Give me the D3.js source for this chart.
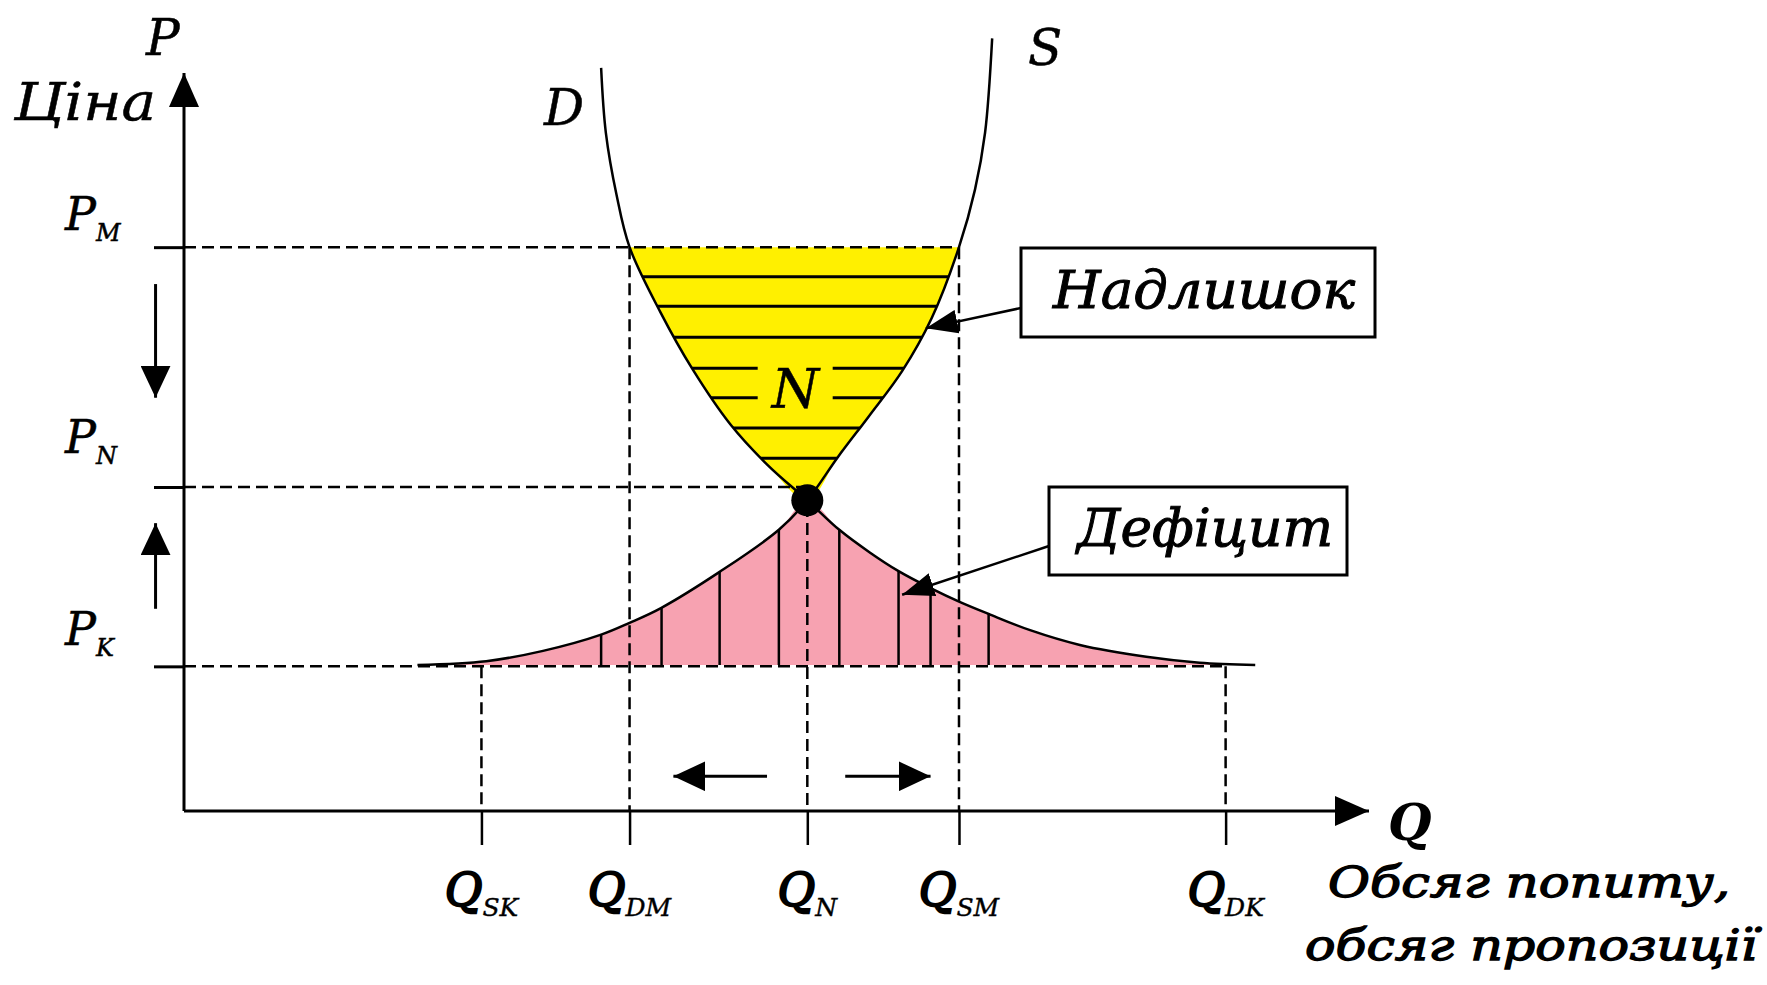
<!DOCTYPE html>
<html>
<head>
<meta charset="utf-8">
<script src="https://cdn.jsdelivr.net/npm/d3@7"></script>
<style>
    body { margin: 0; background: #fff; }
    svg text { font-family: "DejaVu Serif", serif; font-style: italic; fill: #000; stroke: #000; stroke-width: 0.5px; }
</style>
</head>
<body>
<div id="chart"></div>
<script>

// price levels on the vertical axis
var priceNames = ["M", "N", "K"];
var priceValues = [76.4, 43.9, 19.6];
var priceEnds = [65.4, 52.6, 87.9];        // where each dashed price line stops (Q)

// quantity levels on the horizontal axis
var quantityNames = ["SK", "DM", "N", "SM", "DK"];
var quantityValues = [25.1, 37.6, 52.6, 65.4, 87.9];
var quantityTops = [19.6, 76.4, 43.9, 76.4, 19.6];   // where each dashed line starts (P)

// demand curve D
var demandQ = [35.2, 35.6, 36.5, 37.6, 40.2, 42.9, 46.1, 49.3, 52.6, 55.3, 57.9, 60.3, 63.0, 65.5, 67.9, 71.4, 75.6, 81.2, 85.7, 90.4];
var demandP = [100.7, 91.9, 83.5, 76.4, 67.6, 59.9, 52.4, 46.8, 42.1, 38.1, 35.0, 32.5, 30.2, 28.3, 26.7, 24.5, 22.5, 20.9, 20.1, 19.8];

// supply curve S
var supplyQ = [19.7, 25.5, 30.3, 35.2, 37.6, 40.25, 45.2, 50.2, 52.6, 55.2, 57.8, 60.6, 63.1, 65.4, 66.75, 67.6, 68.2];
var supplyP = [19.8, 20.3, 21.7, 23.9, 25.5, 27.5, 32.4, 38.1, 42.1, 48.0, 53.5, 59.6, 66.8, 76.4, 84.2, 91.9, 104.7];

var equilibriumQ = 52.6, equilibriumP = 42.1;

// hatching inside the two areas
var surplusHatchP = [72.4, 68.4, 64.2, 60.0, 56.0, 51.9, 47.8];
var deficitHatchQ = [35.2, 40.3, 45.2, 50.2, 55.3, 60.3, 63.0, 67.9];

// callouts: label, target on curve (Q, P)
var calloutLabels = ["Надлишок", "Дефіцит"];
var calloutTargetQ = [62.6, 60.6];
var calloutTargetP = [65.4, 29.3];


var width = 1767, height = 985;
var svg = d3.select("#chart").append("svg")
    .attr("width", width)
    .attr("height", height);

var x = d3.scaleLinear().domain([0, 100]).range([184, 1369]);
var y = d3.scaleLinear().domain([0, 100]).range([811, 73]);

var demand = demandQ.map(function(q, i){ return [q, demandP[i]]; });
var supply = supplyQ.map(function(q, i){ return [q, supplyP[i]]; });
var nD = 8, nS = 8;   // index of equilibrium point in each curve

var line = d3.line()
    .x(function(d){ return x(d[0]); })
    .y(function(d){ return y(d[1]); })
    .curve(d3.curveCatmullRom.alpha(0.5));

var defs = svg.append("defs");

function arrowMarker(id, len, wid){
    defs.append("marker")
        .attr("id", id)
        .attr("viewBox", "0 " + (-wid/2) + " " + len + " " + wid)
        .attr("refX", len).attr("refY", 0)
        .attr("markerWidth", len).attr("markerHeight", wid)
        .attr("markerUnits", "userSpaceOnUse")
        .attr("orient", "auto")
        .append("path")
        .attr("d", "M0," + (-wid/2) + "L" + len + ",0L0," + (wid/2) + "Z")
        .attr("fill", "#000");
}
arrowMarker("axisHead", 34, 30);
arrowMarker("smallHead", 32, 30);
arrowMarker("calloutHead", 32, 24);

// the U shaped area above N and the bell below it
var upper = demand.slice(0, nD + 1).concat(supply.slice(nS + 1));
var lower = supply.slice(0, nS + 1).concat(demand.slice(nD + 1));

defs.append("clipPath").attr("id", "upperClip")
    .append("path").attr("d", line(upper) + "Z");
defs.append("clipPath").attr("id", "lowerClip")
    .append("path").attr("d", line(lower) + "Z");
defs.append("clipPath").attr("id", "bandClip")
    .append("rect")
    .attr("x", 0).attr("width", width)
    .attr("y", y(priceValues[0]))
    .attr("height", y(equilibriumP) - y(priceValues[0]));

// surplus (yellow)
var surplus = svg.append("g").attr("clip-path", "url(#bandClip)");
surplus.append("path")
    .attr("d", line(upper) + "Z")
    .attr("fill", "#FFF000");
surplus.append("g").attr("clip-path", "url(#upperClip)")
    .selectAll("line").data(surplusHatchP).enter().append("line")
    .attr("x1", x(30)).attr("x2", x(75))
    .attr("y1", function(d){ return y(d); })
    .attr("y2", function(d){ return y(d); })
    .attr("stroke", "#000").attr("stroke-width", 3);

// deficit (pink)
svg.append("path")
    .attr("d", line(lower) + "Z")
    .attr("fill", "#F7A2B1");
svg.append("g").attr("clip-path", "url(#lowerClip)")
    .selectAll("line").data(deficitHatchQ).enter().append("line")
    .attr("x1", function(d){ return x(d); })
    .attr("x2", function(d){ return x(d); })
    .attr("y1", y(50)).attr("y2", y(priceValues[2]))
    .attr("stroke", "#000").attr("stroke-width", 2.5);

// dashed guide lines
svg.selectAll(".hguide").data(priceValues).enter().append("line")
    .attr("class", "hguide")
    .attr("x1", x(0)).attr("x2", function(d, i){ return x(priceEnds[i]); })
    .attr("y1", function(d){ return y(d); })
    .attr("y2", function(d){ return y(d); })
    .attr("stroke", "#000").attr("stroke-width", 2.5)
    .attr("stroke-dasharray", "12,6");

svg.selectAll(".vguide").data(quantityValues).enter().append("line")
    .attr("class", "vguide")
    .attr("x1", function(d){ return x(d); })
    .attr("x2", function(d){ return x(d); })
    .attr("y1", function(d, i){ return y(quantityTops[i]); })
    .attr("y2", y(0))
    .attr("stroke", "#000").attr("stroke-width", 2.5)
    .attr("stroke-dasharray", "12,6");

// curves
svg.append("path").attr("d", line(demand))
    .attr("fill", "none").attr("stroke", "#000").attr("stroke-width", 2.5);
svg.append("path").attr("d", line(supply))
    .attr("fill", "none").attr("stroke", "#000").attr("stroke-width", 2.5);

// axes: ticks from d3 axes, main lines drawn with arrow heads
var xAxis = d3.axisBottom(x).tickValues(quantityValues).tickSize(34).tickFormat("");
var yAxis = d3.axisLeft(y).tickValues(priceValues).tickSize(30).tickFormat("");

svg.append("g").attr("transform", "translate(0," + y(0) + ")").call(xAxis)
    .call(function(g){ g.select(".domain").remove(); g.selectAll("text").remove(); })
    .selectAll("line").attr("stroke", "#000").attr("stroke-width", 2.5);
svg.append("g").attr("transform", "translate(" + x(0) + ",0)").call(yAxis)
    .call(function(g){ g.select(".domain").remove(); g.selectAll("text").remove(); })
    .selectAll("line").attr("stroke", "#000").attr("stroke-width", 3);

svg.append("line")
    .attr("x1", x(0)).attr("y1", y(0)).attr("x2", x(100)).attr("y2", y(0))
    .attr("stroke", "#000").attr("stroke-width", 3)
    .attr("marker-end", "url(#axisHead)");
svg.append("line")
    .attr("x1", x(0)).attr("y1", y(0)).attr("x2", x(0)).attr("y2", y(100))
    .attr("stroke", "#000").attr("stroke-width", 3)
    .attr("marker-end", "url(#axisHead)");

// price movement arrows on the left, quantity movement arrows at the bottom
var moves = [
    [[-2.4, 71.4], [-2.4, 56.0]],
    [[-2.4, 27.4], [-2.4, 39.0]],
    [[49.2, 4.7], [41.3, 4.7]],
    [[55.8, 4.7], [63.0, 4.7]]
];
svg.selectAll(".move").data(moves).enter().append("line")
    .attr("class", "move")
    .attr("x1", function(d){ return x(d[0][0]); })
    .attr("y1", function(d){ return y(d[0][1]); })
    .attr("x2", function(d){ return x(d[1][0]); })
    .attr("y2", function(d){ return y(d[1][1]); })
    .attr("stroke", "#000").attr("stroke-width", 3)
    .attr("marker-end", "url(#smallHead)");

// equilibrium point
svg.append("circle")
    .attr("cx", x(equilibriumQ)).attr("cy", y(equilibriumP))
    .attr("r", 16).attr("fill", "#000");

// N label with a yellow patch to break the hatching
var patch = svg.append("rect").attr("fill", "#FFF000");
var nLabel = svg.append("text")
    .attr("x", x(equilibriumQ) - 12).attr("y", 408)
    .attr("text-anchor", "middle")
    .style("font-size", "54px")
    .text("N");
var bb = nLabel.node().getBBox();
patch.attr("x", bb.x - 12).attr("y", 358)
    .attr("width", bb.width + 24).attr("height", 48);

// axis titles
svg.append("text").attr("x", 146).attr("y", 55)
    .style("font-size", "50px").text("P");
svg.append("text").attr("x", 14).attr("y", 120)
    .attr("textLength", 142).attr("lengthAdjust", "spacingAndGlyphs")
    .style("font-size", "52px").text("Ціна");
svg.append("text").attr("x", 1388).attr("y", 840)
    .style("font-size", "50px").style("font-weight", "bold").style("stroke-width", "0px").text("Q");
svg.append("text").attr("x", 1328).attr("y", 897)
    .attr("textLength", 402).attr("lengthAdjust", "spacingAndGlyphs")
    .style("font-size", "42px").style("stroke-width", "1.3px").text("Обсяг попиту,");
svg.append("text").attr("x", 1305).attr("y", 960)
    .attr("textLength", 452).attr("lengthAdjust", "spacingAndGlyphs")
    .style("font-size", "42px").style("stroke-width", "1.3px").text("обсяг пропозиції");

// curve names
svg.append("text").attr("x", 544).attr("y", 125)
    .style("font-size", "50px").text("D");
svg.append("text").attr("x", 1028).attr("y", 65)
    .style("font-size", "50px").text("S");

// price labels, each set a little above its dashed line
var pLabelLift = [17, 34, 21];
var pLabels = svg.selectAll(".plabel").data(priceValues).enter().append("text")
    .attr("class", "plabel")
    .attr("x", 65)
    .attr("y", function(d, i){ return y(d) - pLabelLift[i]; })
    .style("font-size", "46px");
pLabels.append("tspan").text("P");
pLabels.append("tspan")
    .attr("dy", 11)
    .style("font-size", "24px")
    .text(function(d, i){ return priceNames[i]; });

// quantity labels
var qLabels = svg.selectAll(".qlabel").data(quantityValues).enter().append("text")
    .attr("class", "qlabel")
    .attr("x", function(d){ return x(d); })
    .attr("y", 906)
    .attr("text-anchor", "middle")
    .style("font-size", "46px").style("stroke-width", "2px");
qLabels.append("tspan").text("Q");
qLabels.append("tspan")
    .attr("dy", 10)
    .style("font-size", "25px").style("stroke-width", "0.4px")
    .text(function(d, i){ return quantityNames[i]; });

// callout boxes
var boxes = [
    {x: 1021, y: 248, w: 354, h: 89, textX: 1053, textY: 308, textW: 302},
    {x: 1049, y: 487, w: 298, h: 88, textX: 1077, textY: 546, textW: 256}
];
boxes.forEach(function(b, i){
    svg.append("line")
        .attr("x1", b.x).attr("y1", b.textY)
        .attr("x2", x(calloutTargetQ[i])).attr("y2", y(calloutTargetP[i]))
        .attr("stroke", "#000").attr("stroke-width", 2.5)
        .attr("marker-end", "url(#calloutHead)");
    svg.append("rect")
        .attr("x", b.x).attr("y", b.y).attr("width", b.w).attr("height", b.h)
        .attr("fill", "#fff").attr("stroke", "#000").attr("stroke-width", 3);
    svg.append("text")
        .attr("x", b.textX).attr("y", b.textY)
        .attr("textLength", b.textW).attr("lengthAdjust", "spacingAndGlyphs")
        .style("font-size", "52px").style("stroke-width", "1px")
        .text(calloutLabels[i]);
});

</script>
</body>
</html>
